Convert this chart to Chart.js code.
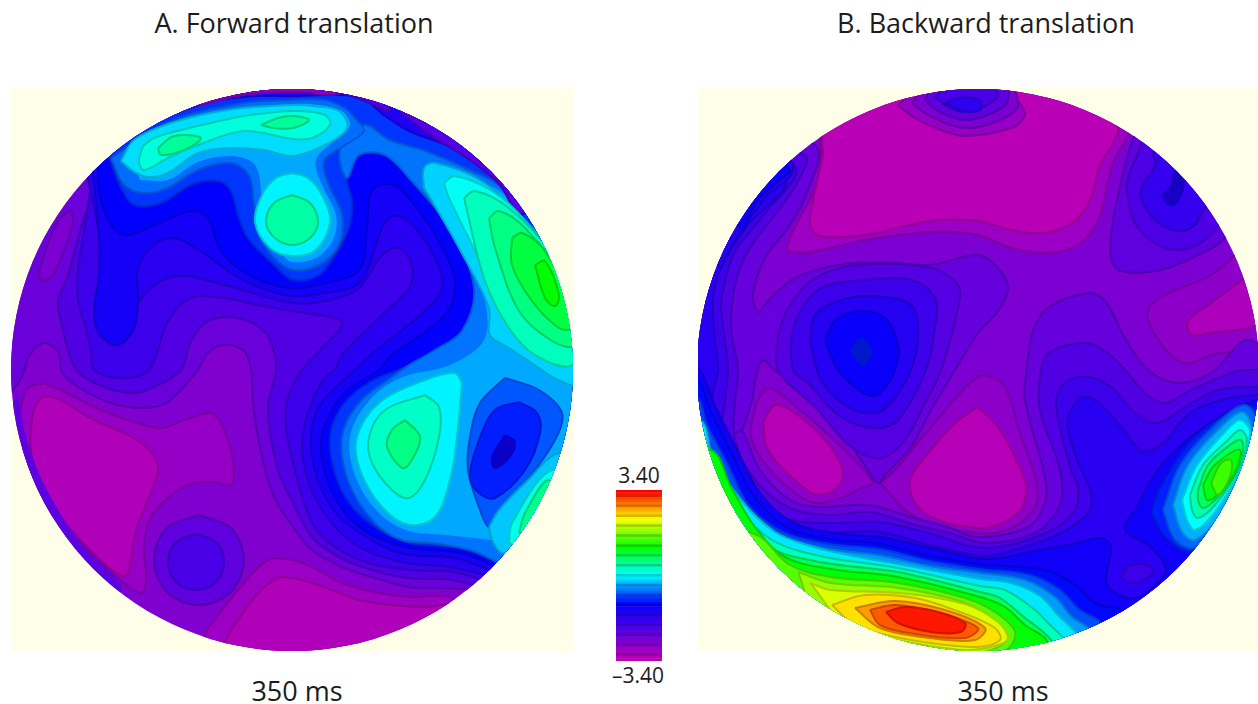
<!DOCTYPE html>
<html>
<head>
<meta charset="utf-8">
<title>Forward and backward translation, 350 ms</title>
<script src="https://cdn.jsdelivr.net/npm/chart.js@4"></script>
<style>
    html, body { margin: 0; background: #fff; }
    body { position: relative; width: 1258px; height: 704px; overflow: hidden; font-family: "Open Sans", sans-serif; color: #1c1c1c; }
    .box { position: absolute; }
    .map { background: #ffffe9; }
    .map canvas { filter: blur(0.5px); }
    .txt { position: absolute; transform: translate(-50%, -50%); white-space: nowrap; }
</style>
</head>
<body>
<div class="txt" style="left:294px;top:22px;font-size:27px">A. Forward translation</div>
<div class="txt" style="left:986px;top:22px;font-size:27px">B. Backward translation</div>
<div class="txt" style="left:297px;top:690px;font-size:27px">350 ms</div>
<div class="txt" style="left:1003px;top:690px;font-size:27px">350 ms</div>
<div class="txt" style="left:639px;top:475px;font-size:21px">3.40</div>
<div class="txt" style="left:638px;top:675px;font-size:21px">&#8211;3.40</div>
<div class="box map" style="left:11px;top:88px;width:563px;height:564px"><canvas id="mapA"></canvas></div>
<div class="box map" style="left:698px;top:88px;width:560px;height:564px"><canvas id="mapB"></canvas></div>
<div class="box" style="left:616px;top:490px;width:46px;height:171px"><canvas id="scaleBar"></canvas></div>
<script>
// colour bar steps
const barLevels = [3.4,3.3,3.2,3.1,3.0,2.9,2.8,2.7,2.6,2.5,2.4,2.3,2.2,2.1,2.0,1.9,1.8,1.7,1.6,1.5,1.4,1.3,1.2,1.1,1.0,0.9,0.8,0.7,0.6,0.5,0.4,0.3,0.2,0.1,0.0,
    -0.1,-0.2,-0.3,-0.4,-0.5,-0.6,-0.7,-0.8,-0.9,-1.0,-1.1,-1.2,-1.3,-1.4,-1.5,-1.6,-1.7,-1.8,-1.9,-2.0,-2.1,-2.2,-2.3,-2.4,-2.5,-2.6,-2.7,-2.8,-2.9,-3.0,-3.1,-3.2,-3.3,-3.4];

// contour outlines, panel A
const a_blobOut = [[44,383],[61,390],[94,407],[128,420],[161,428],[184,420],[211,413],[221,423],[231,450],[234,473],[231,485],[211,482],[188,485],[168,498],[151,517],[144,543],[146,583],[141,593],[124,583],[78,540],[44,503],[21,437],[26,390]];
const a_blobIn = [[41,397],[54,397],[94,420],[134,438],[153,455],[158,470],[148,500],[136,530],[129,570],[124,576],[108,567],[71,530],[44,497],[31,453],[33,413]];
const a_bottomOut = [[208,628],[244,583],[268,560],[292,560],[312,567],[342,583],[375,592],[409,597],[449,597],[480,620],[300,690],[200,660]];
const a_bottomIn = [[231,630],[258,593],[278,578],[292,578],[309,582],[332,590],[359,600],[392,605],[425,607],[460,606],[470,640],[300,680],[225,650]];
const a_ringOut = [[199,515],[231,528],[244,560],[231,592],[199,605],[167,592],[154,560],[167,528]];
const a_ringIn = [[196,534],[216,542],[224,562],[216,582],[196,590],[176,582],[168,562],[176,542]];
const a_c1 = [[-20,200],[5,395],[20,380],[30,355],[44,343],[58,352],[62,372],[78,387],[111,403],[144,408],[168,402],[198,370],[208,353],[224,345],[244,351],[251,370],[253,403],[261,453],[274,497],[293,527],[312,550],[342,567],[375,578],[409,587],[439,588],[470,590],[640,620],[660,40],[290,40],[0,100]];
const a_pocket = [[71,210],[58,221],[43,258],[39,275],[44,281],[53,275],[66,245],[73,221]];
const a_c2 = [[100,150],[94,191],[83,221],[68,275],[58,301],[61,321],[68,350],[78,372],[104,387],[134,393],[154,387],[181,370],[191,341],[208,321],[238,318],[264,331],[274,351],[276,370],[268,410],[278,470],[293,503],[312,537],[339,557],[372,570],[409,578],[452,580],[640,620],[660,40],[290,40]];
const a_c3 = [[95,150],[91,185],[85,225],[78,270],[78,301],[86,328],[91,351],[94,370],[121,378],[149,370],[168,321],[191,298],[224,298],[258,305],[292,311],[335,318],[342,325],[325,345],[302,370],[288,397],[286,427],[293,463],[312,523],[335,547],[369,563],[409,570],[459,573],[640,620],[660,40],[290,40]];
const a_c3b = [[85,165],[99,235],[99,275],[94,315],[101,336],[118,345],[134,328],[140,300],[175,276],[224,285],[292,303],[330,300],[359,288],[382,255],[399,248],[412,265],[409,288],[382,315],[342,355],[335,370],[325,377],[310,407],[302,443],[309,483],[329,520],[359,547],[402,562],[449,567],[485,575],[640,620],[660,40],[290,40]];
const a_c4 = [[92,165],[99,235],[99,275],[94,315],[101,336],[118,345],[134,328],[138,301],[138,268],[154,245],[174,238],[201,251],[224,268],[251,284],[292,296],[325,293],[359,283],[375,248],[382,228],[392,216],[409,221],[435,258],[442,288],[425,311],[375,351],[355,370],[320,405],[311,437],[316,475],[335,512],[360,533],[400,553],[455,558],[490,570],[640,620],[660,40],[290,40]];
const a_c5 = [[100,150],[98,181],[106,215],[124,235],[154,225],[191,211],[208,218],[221,251],[251,276],[292,288],[325,283],[359,270],[367,228],[370,195],[379,185],[399,188],[435,235],[455,281],[445,315],[392,355],[379,370],[345,392],[325,425],[321,450],[329,485],[347,515],[372,535],[410,548],[460,553],[497,566],[640,620],[660,40],[290,40]];
const a_c6 = [[105,145],[111,163],[121,188],[134,205],[161,203],[191,185],[218,181],[231,191],[238,215],[248,238],[274,265],[293,280],[319,275],[335,255],[349,228],[352,201],[347,178],[359,155],[385,155],[409,178],[452,231],[474,288],[462,331],[409,365],[370,382],[343,405],[330,437],[337,480],[355,510],[380,530],[410,543],[460,548],[497,562],[640,620],[660,40],[290,40]];
const a_side = [[409,365],[392,377],[359,403],[342,437],[349,483],[375,523],[402,540],[432,543],[470,550],[497,562],[520,575],[620,600],[640,300],[540,240],[525,228],[502,188],[465,168],[425,151],[389,140],[364,125],[340,150],[347,178],[359,155],[385,155],[409,178],[452,231],[474,288],[462,331],[435,350]];
const a_side2 = [[425,170],[440,198],[468,245],[485,300],[484,340],[450,365],[400,378],[368,402],[350,437],[356,478],[380,514],[409,531],[445,535],[490,540],[520,545],[600,560],[620,300],[540,240],[505,195],[465,175],[440,165]];
const a_rimTop = [[105,155],[138,130],[178,108],[244,97],[293,96],[359,97],[385,116],[409,131],[459,151],[505,188],[522,215],[560,150],[400,40],[200,40],[90,120]];
const a_rimTop2 = [[170,115],[244,93],[340,93],[390,110],[342,60],[200,60]];
const a_rimTop3 = [[198,106],[244,95],[293,92],[342,92],[342,60],[200,60]];
const a_rimRight = [[400,112],[430,135],[470,160],[500,185],[520,215],[540,150],[440,80]];
const a_neck = [[111,158],[124,185],[144,193],[168,188],[198,170],[231,163],[249,175],[254,205],[259,235],[274,258],[293,270],[319,265],[339,245],[342,215],[329,185],[324,161],[345,145],[364,131],[355,118],[345,108],[325,100],[293,100],[244,103],[178,118],[138,140]];
const a_neck2 = [[140,180],[168,180],[198,162],[231,156],[255,165],[262,200],[266,232],[280,252],[292,262],[316,258],[333,240],[336,215],[322,185],[316,160],[335,140],[350,125],[340,110],[293,104],[178,122],[132,150]];
const a_top1 = [[121,161],[133,171],[148,177],[168,173],[198,153],[231,148],[264,150],[293,156],[325,145],[347,128],[339,111],[312,106],[293,105],[228,110],[171,123],[134,140]];
const a_top2 = [[143,146],[139,161],[144,170],[168,158],[198,145],[244,131],[293,139],[312,138],[330,125],[325,115],[293,111],[244,116],[211,123],[181,130],[154,138]];
const a_nodeL = [[158,148],[174,136],[201,138],[184,150],[161,155]];
const a_nodeR = [[261,125],[278,118],[293,116],[309,120],[293,128],[274,128]];
const a_mid1 = [[292,173],[308,178],[322,195],[330,222],[316,250],[292,256],[270,248],[255,222],[262,195],[276,178]];
const a_mid2 = [[292,195],[310,203],[318,222],[310,238],[292,245],[275,238],[266,222],[274,203]];
const a_right1 = [[424,188],[424,168],[435,163],[480,180],[520,215],[590,300],[600,400],[570,385],[552,377],[542,370],[509,348],[490,335],[489,308],[459,248],[432,201]];
const a_right2 = [[444,183],[455,176],[492,191],[525,221],[575,300],[585,370],[572,365],[539,355],[509,328],[495,295],[472,245],[449,198]];
const a_right3 = [[464,198],[475,191],[509,208],[552,255],[580,321],[572,365],[535,355],[509,328],[485,281]];
const a_right4 = [[489,218],[499,211],[525,228],[570,288],[574,345],[552,341],[519,311],[495,248]];
const a_right5 = [[512,238],[522,233],[545,251],[569,301],[571,328],[559,328],[532,301],[512,265]];
const a_right6 = [[535,265],[545,261],[559,295],[555,306],[545,298]];
const a_low1 = [[462,383],[457,437],[450,480],[435,517],[409,525],[382,507],[360,470],[357,437],[379,403],[425,380],[455,373]];
const a_low2 = [[425,395],[439,407],[439,437],[425,480],[409,498],[392,490],[372,463],[369,437],[385,410]];
const a_low3 = [[405,420],[420,437],[410,463],[402,468],[387,447],[392,430]];
const a_dip1 = [[505,378],[539,390],[562,413],[555,440],[525,483],[499,510],[489,527],[480,510],[468,470],[470,437],[480,403]];
const a_dip2 = [[519,402],[537,413],[540,433],[525,470],[495,498],[479,493],[470,477],[479,440],[495,410]];
const a_dip3 = [[505,435],[515,442],[509,458],[495,468],[492,457]];
const a_wedge1 = [[489,527],[492,540],[502,553],[560,560],[580,470],[559,453],[525,483],[499,510]];
const a_wedge2 = [[509,543],[512,523],[552,470],[580,500],[540,560]];
const a_wedge3 = [[519,533],[525,513],[549,480],[565,520]];
const a_rimLeft = [[18,395],[27,440],[47,490],[82,545],[122,590],[60,600],[-10,450]];

const contoursA = [
    [-2.95, a_blobOut], [-3.25, a_blobIn], [-3.0, a_bottomOut], [-3.25, a_bottomIn], [-2.35, a_ringOut], [-2.05, a_ringIn],
    [-2.45, a_c1], [-2.65, a_pocket], [-2.15, a_c2], [-1.9, a_c3], [-1.65, a_c3b], [-1.4, a_c4], [-1.15, a_c5], [-0.9, a_c6],
    [-0.62, a_side], [-0.38, a_side2, 'soft'], [-1.5, a_rimTop], [-2.2, a_rimTop2], [-2.85, a_rimTop3], [-2.2, a_rimRight],
    [-0.65, a_neck], [-0.38, a_neck2, 'soft'], [-0.15, a_top1], [0.15, a_top2], [0.45, a_nodeL], [0.45, a_nodeR], [-0.05, a_mid1], [0.4, a_mid2],
    [-0.2, a_right1], [0.05, a_right2], [0.3, a_right3], [0.55, a_right4], [0.85, a_right5], [1.1, a_right6],
    [-0.05, a_low1], [0.25, a_low2], [0.55, a_low3], [-0.75, a_dip1], [-1.0, a_dip2], [-1.3, a_dip3, 'core'],
    [-0.25, a_wedge1], [0.1, a_wedge2], [0.5, a_wedge3], [-2.3, a_rimLeft, 'soft']
];

// contour outlines, panel B
const b_top1 = [[813,110],[821,151],[815,188],[793,231],[788,250],[810,252],[865,240],[931,232],[978,235],[1011,248],[1048,253],[1078,245],[1098,221],[1108,181],[1115,158],[1125,141],[1140,100],[1000,50],[800,60]];
const b_top2 = [[823,155],[813,201],[810,225],[821,236],[865,235],[931,221],[978,221],[1011,230],[1045,233],[1075,221],[1091,198],[1100,165],[1116,138],[1118,128],[1100,80],[1000,60],[850,70],[823,130]];
const b_cap1 = [[898,105],[915,118],[941,130],[965,136],[1011,128],[1025,115],[1018,101],[1000,70],[940,70]];
const b_cap2 = [[912,103],[930,116],[965,128],[1000,120],[1018,105],[1000,70],[940,70]];
const b_cap3 = [[925,100],[940,112],[965,120],[992,113],[1008,100],[1000,70],[940,70]];
const b_cap4 = [[935,97],[948,107],[965,112],[985,106],[998,95],[985,80],[950,80]];
const b_cap5 = [[945,103],[958,98],[980,100],[980,110],[961,111]];
const b_pool1 = [[1235,255],[1211,275],[1165,295],[1148,311],[1155,335],[1178,361],[1191,363],[1211,355],[1255,345],[1300,300]];
const b_pool2 = [[1245,278],[1208,305],[1188,321],[1191,335],[1211,333],[1255,326],[1290,300]];
const b_lobeL1 = [[756,403],[768,388],[788,400],[831,437],[861,467],[873,483],[861,488],[841,498],[815,503],[795,493],[768,467],[751,437]];
const b_lobeL2 = [[763,423],[775,405],[795,413],[825,440],[843,470],[838,487],[818,495],[798,483],[768,450]];
const b_lobeR1 = [[880,483],[895,470],[931,427],[978,377],[998,380],[1008,393],[1021,437],[1036,480],[1035,507],[1011,528],[978,533],[915,517]];
const b_lobeR2 = [[978,407],[998,427],[1018,463],[1026,487],[1021,510],[998,525],[978,528],[938,520],[915,503],[910,480],[925,457],[955,423]];
const b_g1 = [[690,100],[815,145],[806,195],[788,228],[765,258],[753,295],[758,312],[768,301],[795,278],[838,265],[885,262],[931,265],[978,255],[998,268],[1008,288],[998,311],[978,333],[955,370],[931,410],[911,447],[885,475],[878,483],[861,460],[838,425],[798,388],[772,368],[763,360],[757,372],[752,400],[742,430],[735,435],[670,400]];
const b_node5 = [[778,335],[788,308],[815,278],[858,265],[931,268],[958,285],[958,308],[941,370],[925,403],[905,440],[881,458],[851,447],[815,407],[778,370]];
const b_node4 = [[791,341],[798,315],[821,288],[865,280],[911,280],[935,298],[935,328],[926,370],[898,420],[875,428],[841,417],[808,383],[793,370]];
const b_node3 = [[810,341],[815,315],[838,301],[871,296],[911,305],[918,335],[911,370],[891,403],[875,413],[848,407],[821,380]];
const b_node2 = [[825,341],[835,321],[858,311],[885,318],[898,345],[895,370],[880,393],[868,395],[855,387],[838,370]];
const b_node1 = [[851,351],[861,338],[871,351],[863,365]];
const b_ur1 = [[1133,138],[1125,165],[1113,221],[1111,258],[1121,271],[1161,270],[1198,255],[1225,238],[1260,180],[1170,100]];
const b_ur2 = [[1141,145],[1138,153],[1128,178],[1128,198],[1138,228],[1165,248],[1191,248],[1211,235],[1218,225],[1260,180],[1170,100]];
const b_ur3 = [[1153,153],[1155,166],[1143,185],[1141,198],[1155,220],[1178,231],[1195,225],[1205,208],[1250,180],[1200,120]];
const b_ur4 = [[1163,195],[1171,186],[1175,171],[1183,181],[1181,195],[1173,205],[1165,201]];
const b_l1 = [[670,440],[738,432],[742,430],[760,470],[790,500],[818,507],[868,505],[911,517],[948,527],[978,537],[1028,527],[1045,503],[1045,477],[1025,400],[1027,368],[1033,331],[1048,308],[1088,293],[1105,301],[1125,338],[1148,370],[1178,383],[1211,373],[1250,340],[1300,400],[1300,720],[650,720]];
const b_l2 = [[690,130],[805,155],[798,181],[778,211],[748,251],[735,285],[731,328],[738,370],[735,400],[735,440],[755,480],[790,508],[830,515],[870,512],[915,525],[950,533],[985,543],[1035,533],[1060,505],[1060,470],[1040,410],[1041,370],[1050,352],[1085,343],[1105,351],[1125,370],[1145,393],[1165,403],[1191,390],[1221,377],[1245,370],[1300,380],[1300,720],[650,720],[650,300]];
const b_l3 = [[690,120],[795,166],[761,218],[735,251],[726,278],[721,305],[725,341],[728,370],[725,400],[722,440],[745,490],[785,518],[830,523],[880,522],[925,532],[985,548],[1048,532],[1075,510],[1078,487],[1071,470],[1056,403],[1065,383],[1088,377],[1111,387],[1135,413],[1158,423],[1185,407],[1218,390],[1255,387],[1300,390],[1300,720],[650,720],[650,300]];
const b_l4 = [[690,110],[785,178],[748,225],[730,251],[718,275],[713,301],[715,341],[718,370],[712,400],[718,440],[738,495],[780,525],[830,532],[880,532],[930,545],[985,556],[1030,545],[1061,533],[1088,513],[1091,493],[1078,463],[1069,433],[1068,417],[1081,398],[1095,400],[1118,423],[1135,445],[1145,452],[1165,442],[1185,417],[1211,403],[1255,395],[1300,400],[1300,720],[650,720],[650,300]];
const b_edge1 = [[721,268],[738,235],[765,198],[793,170],[770,140],[700,240]];
const b_edge2 = [[743,231],[756,203],[778,181],[790,170],[760,150],[730,215]];
const b_oval = [[1121,577],[1131,565],[1151,567],[1151,575],[1131,583]];
const b_l5 = [[650,300],[700,370],[716,408],[736,448],[760,493],[792,522],[835,533],[885,538],[935,549],[985,559],[1040,550],[1078,543],[1101,538],[1111,547],[1106,577],[1111,590],[1135,598],[1158,583],[1166,568],[1151,547],[1125,530],[1135,510],[1158,470],[1191,437],[1248,403],[1300,395],[1300,720],[650,720]];
const b_l6 = [[650,370],[695,378],[711,412],[731,452],[755,498],[788,528],[831,539],[881,544],[931,556],[980,564],[1045,570],[1075,585],[1095,603],[1130,612],[1160,640],[900,720],[650,720]];
const b_l7 = [[650,395],[695,395],[707,425],[727,463],[750,507],[785,533],[829,544],[880,549],[930,561],[980,569],[1030,575],[1060,590],[1080,610],[1100,622],[1120,660],[900,720],[650,720]];
const b_l8 = [[650,410],[695,410],[705,437],[723,475],[745,516],[785,538],[829,549],[878,555],[930,566],[980,573],[1025,580],[1055,597],[1072,617],[1090,630],[1110,670],[900,720],[650,720]];
const b_l9 = [[650,420],[700,420],[712,455],[741,500],[775,532],[810,546],[848,555],[898,564],[980,579],[1011,583],[1040,596],[1058,615],[1075,632],[1100,670],[900,720],[650,720]];
const b_l10 = [[650,435],[700,435],[710,468],[738,508],[772,540],[820,556],[898,568],[980,586],[1005,590],[1035,610],[1050,625],[1065,640],[1090,680],[900,720],[650,720]];
const b_l11 = [[650,445],[705,445],[720,475],[735,515],[765,546],[820,562],[898,572],[980,592],[1000,598],[1025,618],[1043,632],[1055,645],[1080,690],[900,720],[650,720]];
const b_l12 = [[650,450],[711,450],[731,487],[755,527],[785,557],[831,569],[898,577],[980,597],[1005,607],[1025,625],[1045,638],[1050,650],[1070,690],[900,720],[650,720]];
const b_l13 = [[745,530],[762,538],[790,565],[831,577],[898,583],[965,598],[995,612],[1015,632],[1005,650],[900,660],[800,620]];
const b_l14 = [[798,572],[831,583],[898,588],[965,603],[1000,625],[1005,643],[960,655],[880,645],[815,610]];
const b_l15 = [[810,583],[831,590],[898,593],[965,604],[998,622],[1008,638],[998,645],[965,650],[898,640],[848,627]];
const b_o1 = [[832,605],[865,595],[915,598],[960,612],[995,628],[1000,640],[975,647],[900,638],[855,625]];
const b_o2 = [[855,608],[895,601],[945,610],[985,628],[975,640],[930,638],[880,628]];
const b_o3 = [[870,610],[895,605],[940,613],[978,628],[965,638],[915,634],[880,625]];
const b_o4 = [[886,612],[905,607],[938,612],[965,623],[961,632],[931,632],[898,623]];
const b_r1 = [[1151,513],[1160,487],[1195,437],[1245,407],[1270,420],[1240,560],[1188,553],[1165,537]];
const b_r2 = [[1163,510],[1180,465],[1215,425],[1245,405],[1258,425],[1250,470],[1222,520],[1195,548],[1175,540]];
const b_r3 = [[1173,505],[1188,465],[1220,428],[1242,412],[1252,428],[1245,470],[1218,518],[1195,540],[1182,532]];
const b_r4 = [[1182,500],[1197,465],[1225,432],[1240,420],[1250,432],[1240,470],[1215,512],[1195,530],[1187,520]];
const b_r5 = [[1190,495],[1203,465],[1228,440],[1240,430],[1247,440],[1238,470],[1215,505],[1198,518],[1192,510]];
const b_r6 = [[1198,490],[1208,465],[1230,445],[1241,440],[1243,450],[1235,475],[1215,500],[1203,508],[1198,500]];
const b_r7 = [[1203,485],[1213,467],[1232,452],[1240,450],[1240,458],[1232,478],[1215,497],[1207,500]];
const b_r8 = [[1211,483],[1221,463],[1231,460],[1230,477],[1218,495]];

const contoursB = [
    [-3.0, b_top1], [-3.35, b_top2], [-2.95, b_cap1], [-2.65, b_cap2], [-2.35, b_cap3], [-2.05, b_cap4], [-1.7, b_cap5],
    [-2.85, b_pool1], [-3.2, b_pool2], [-2.85, b_lobeL1], [-3.3, b_lobeL2], [-2.85, b_lobeR1], [-3.3, b_lobeR2],
    [-2.4, b_g1], [-2.2, b_node5], [-1.9, b_node4], [-1.6, b_node3], [-1.25, b_node2], [-1.0, b_node1, 'core'],
    [-2.35, b_ur1], [-2.1, b_ur2], [-1.8, b_ur3], [-1.5, b_ur4, 'core'],
    [-2.4, b_l1], [-2.15, b_l2], [-1.9, b_l3], [-1.65, b_l4], [-1.6, b_edge1], [-1.3, b_edge2], [-1.35, b_l5], [-1.9, b_oval],
    [-1.1, b_l6], [-0.8, b_l7], [-0.45, b_l8], [-0.1, b_l9], [0.3, b_l10], [0.7, b_l11], [1.1, b_l12],
    [1.5, b_l13], [1.8, b_l14], [2.1, b_l15], [2.4, b_o1], [2.7, b_o2], [3.0, b_o3], [3.3, b_o4],
    [-1.0, b_r1], [-0.7, b_r2], [-0.35, b_r3], [0.0, b_r4], [0.35, b_r5], [0.7, b_r6], [1.05, b_r7], [1.4, b_r8]
];

// rainbow used by the figure: red at the top, magenta at the bottom
const colourStops = [[255,0,0],[255,255,0],[0,255,0],[0,255,255],[0,0,255],[90,0,225],[190,0,180]];

function levelRgb(level) {
    const t = Math.min(1, Math.max(0, (3.4 - level) / 6.8)) * 6;
    const i = Math.min(5, Math.floor(t));
    const f = t - i;
    return colourStops[i].map((c, k) => c + (colourStops[i + 1][k] - c) * f);
}

function levelColour(level, shade) {
    const rgb = levelRgb(level).map(c => Math.round(c * shade));
    return 'rgb(' + rgb.join(',') + ')';
}

// keeps the map inside the head circle and paints the lowest band
function circlePlugin(cx, cy, r, baseLevel) {
    return {
        id: 'headCircle',
        beforeDatasetsDraw(chart) {
            const x = chart.scales.x, y = chart.scales.y;
            const ctx = chart.ctx;
            ctx.save();
            ctx.beginPath();
            ctx.arc(x.getPixelForValue(cx), y.getPixelForValue(cy), r, 0, Math.PI * 2);
            ctx.clip();
            ctx.fillStyle = levelColour(baseLevel, 1);
            ctx.fillRect(0, 0, chart.width, chart.height);
        },
        afterDatasetsDraw(chart) {
            chart.ctx.restore();
        }
    };
}

function drawMap(canvasId, contours, xMin, xMax, cx, cy, r, baseLevel) {
    const datasets = contours.map(function (c) {
        return {
            data: c[1].concat([c[1][0]]),
            showLine: true,
            fill: 'shape',
            tension: 0.35,
            capBezierPoints: false,
            pointRadius: 0,
            borderWidth: c[2] === 'soft' ? 0 : 2,
            borderColor: levelColour(c[0], 0.8),
            backgroundColor: levelColour(c[0], c[2] === 'core' ? 0.8 : 1)
        };
    }).reverse(); // chart.js paints the first dataset last

    new Chart(document.getElementById(canvasId), {
        type: 'scatter',
        data: { datasets: datasets },
        options: {
            responsive: true,
            maintainAspectRatio: false,
            animation: false,
            events: [],
            layout: { padding: 0 },
            scales: {
                x: { type: 'linear', display: false, min: xMin, max: xMax },
                y: { type: 'linear', display: false, min: 88, max: 652, reverse: true }
            },
            plugins: { legend: { display: false }, tooltip: { enabled: false } }
        },
        plugins: [circlePlugin(cx, cy, r, baseLevel)]
    });
}

drawMap('mapA', contoursA, 11, 574, 292, 370, 281, -2.7);
drawMap('mapB', contoursB, 698, 1258, 978, 370, 281, -2.65);

new Chart(document.getElementById('scaleBar'), {
    type: 'bar',
    data: {
        labels: barLevels,
        datasets: [{
            data: barLevels.map(() => 1),
            barPercentage: 1,
            categoryPercentage: 1,
            backgroundColor: barLevels.map((v, i) => levelColour(v, i % 4 === 2 ? 0.82 : 1))
        }]
    },
    options: {
        indexAxis: 'y',
        responsive: true,
        maintainAspectRatio: false,
        animation: false,
        events: [],
        scales: {
            x: { display: false, min: 0, max: 1 },
            y: { display: false }
        },
        plugins: { legend: { display: false }, tooltip: { enabled: false } }
    }
});
</script>
</body>
</html>
